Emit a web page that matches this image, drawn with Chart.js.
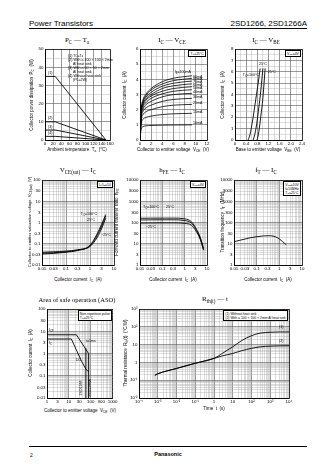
<!DOCTYPE html>
<html>
<head>
<meta charset="utf-8" />
<title>2SD1266 characteristics</title>
<script src="https://cdn.jsdelivr.net/npm/chart.js"></script>
<style>
    body { margin: 0; padding: 0; background: #fff; font-family: "Liberation Sans", Arial, sans-serif; color: #000; }
    #page { position: relative; width: 336px; height: 474px; overflow: hidden; }
    canvas { position: absolute; }
    .t { position: absolute; white-space: nowrap; line-height: 1; }
    .t sub { font-size: 72%; vertical-align: baseline; position: relative; top: 0.3em; line-height: 0; }
    .hdr { font-size: 8px; }
    .ttl { font-family: "Liberation Serif", serif; font-size: 7px; }
    .ax { font-size: 4.5px; }
    .ann { font-size: 3.6px; }
    .box { font-size: 3.4px; line-height: 1.2; border: 0.6px solid #000; background: #fff; padding: 0.6px 1.2px; }
    .rule { position: absolute; background: #000; height: 1px; }
</style>
</head>
<body>
<div id="page"></div>
<script>
    // ---------- data ----------
    // PC - Ta
    var taPts = [0, 25, 150];
    var pcTcTa = [35, 35, 0];
    var pcSink100 = [10, 10, 0];
    var pcSink50 = [5.5, 5.5, 0];
    var pcNoSink = [2, 2, 0];
    var taLabels = [0, 20, 40, 60, 80, 100, 120, 140, 160];
    var pcLabels = [0, 10, 20, 30, 40, 50];

    // IC - VCE  (Tc = 25 C)
    var vcePts = [0, 0.2, 0.5, 1, 2, 4, 6, 9.3];
    var icIb100 = [0, 1.9, 2.6, 3.0, 3.4, 3.85, 4.08, 4.24];
    var icIb90 = [0, 1.85, 2.5, 2.9, 3.3, 3.7, 3.92, 4.07];
    var icIb80 = [0, 1.8, 2.45, 2.8, 3.15, 3.55, 3.75, 3.89];
    var icIb70 = [0, 1.75, 2.35, 2.7, 3.0, 3.4, 3.58, 3.71];
    var icIb60 = [0, 1.7, 2.25, 2.6, 2.9, 3.22, 3.4, 3.52];
    var icIb50 = [0, 1.6, 2.15, 2.45, 2.75, 3.05, 3.22, 3.32];
    var icIb40 = [0, 1.5, 2.0, 2.3, 2.55, 2.85, 3.0, 3.08];
    var icIb30 = [0, 1.4, 1.85, 2.1, 2.3, 2.55, 2.68, 2.75];
    var icIb20 = [0, 1.25, 1.65, 1.85, 2.0, 2.2, 2.3, 2.35];
    var icIb15 = [0, 1.0, 1.35, 1.48, 1.58, 1.68, 1.73, 1.76];
    var icIb10 = [0, 0.7, 0.88, 0.93, 0.96, 0.98, 0.99, 1.0];
    var ibNames = ['I<sub>B</sub>=100mA', '90mA', '80mA', '70mA', '60mA', '50mA', '40mA', '30mA', '20mA', '15mA', '10mA'];
    var vceLabels = [0, 2, 4, 6, 8, 10, 12];
    var icLabels = [0, 1, 2, 3, 4, 5, 6];

    // IC - VBE  (VCE = 4 V)
    var icVbePts = [0, 0.5, 1, 2, 3, 4, 5, 6.3];
    var vbe100 = [0.47, 0.54, 0.58, 0.65, 0.71, 0.77, 0.83, 0.90];
    var vbe25 = [0.65, 0.71, 0.75, 0.81, 0.86, 0.91, 0.95, 1.0];
    var vbeM25 = [0.79, 0.84, 0.87, 0.92, 0.97, 1.01, 1.04, 1.08];
    var vbeLabels = [0, 0.4, 0.8, 1.2, 1.6, 2.0, 2.4];
    var vbeText = ['0', '0.4', '0.8', '1.2', '1.6', '2.0', '2.4'];
    var icVbeLabels = [0, 1, 2, 3, 4, 5, 6, 7, 8];

    // VCE(sat) - IC  (IC/IB = 10)
    var satIc = [0.01, 0.03, 0.1, 0.3, 1, 2, 3, 4.5];
    var sat100 = [0.033, 0.035, 0.04, 0.048, 0.085, 0.3, 0.8, 2.4];
    var sat25 = [0.036, 0.038, 0.042, 0.05, 0.08, 0.25, 0.65, 2.0];
    var satM25 = [0.04, 0.042, 0.045, 0.052, 0.075, 0.2, 0.5, 1.6];
    var icLogLabels = [0.01, 0.03, 0.1, 0.3, 1, 3, 10];
    var satLabels = [0.01, 0.03, 0.1, 0.3, 1, 3, 10, 30, 100];

    // hFE - IC  (VCE = 4 V)
    var hfeIc = [0.01, 0.03, 0.1, 0.3, 1, 2, 3, 5, 7];
    var hfe100 = [160, 161, 162, 162, 150, 110, 60, 20, 6];
    var hfe25 = [133, 134, 135, 135, 125, 95, 55, 18, 5.5];
    var hfeM25 = [95, 96, 97, 97, 92, 75, 45, 16, 5];
    var hfeLabels = [1, 3, 10, 30, 100, 300, 1000, 3000, 10000];

    // fT - IC  (VCE = 10 V)
    var ftIc = [0.01, 0.02, 0.05, 0.1, 0.2, 0.4, 0.7, 1, 2];
    var ftVal = [12.5, 15, 19, 21.5, 23.5, 24, 21, 17, 9];

    // ASO
    var icpV = [1, 22], icpI = [7, 7];
    var icdV = [1, 13], icdI = [4.5, 4.5];
    var t1msV = [22, 45, 80], t1msI = [7, 2.4, 1.0];
    var dcV = [13, 38, 60, 80], dcI = [4.5, 0.45, 0.2, 0.15];
    var vceoV = [60, 60], vceoI = [0.01, 1.8];
    var vceoAV = [80, 80], vceoAI = [0.01, 1.0];
    var asoXLabels = [1, 3, 10, 30, 100, 300, 1000];

    // Rth(t) - t
    var tPts = [7e-4, 1e-3, 1e-2, 1e-1, 1, 3, 10, 30, 100, 300, 1e3, 3e3, 1e4];
    var rthNoSink = [0.19, 0.23, 0.46, 0.9, 1.7, 3.4, 7.6, 17, 32, 45, 50, 52, 52];
    var rthSink = [0.19, 0.23, 0.46, 0.9, 1.7, 2.4, 3.2, 4.6, 6.2, 7.6, 8.3, 8.6, 8.7];
    var rthXLabels = [1e-4, 1e-3, 1e-2, 1e-1, 1, 10, 1e2, 1e3, 1e4];
    var rthXText = ['10\u207B\u2074', '10\u207B\u00B3', '10\u207B\u00B2', '10\u207B\u00B9', '1', '10', '10\u00B2', '10\u00B3', '10\u2074'];
    var rthYLabels = [1e-2, 1e-1, 1, 10, 1e2, 1e3];
    var rthYText = ['10\u207B\u00B2', '10\u207B\u00B9', '1', '10', '10\u00B2', '10\u00B3'];

    // ---------- helpers ----------
    var page = document.getElementById('page');

    function note(html, x, y, cls, anchor, rot) {
        var d = document.createElement('div');
        d.className = 't ' + (cls || '');
        d.innerHTML = html;
        d.style.left = x + 'px';
        d.style.top = y + 'px';
        var tx = anchor === 'l' ? '0' : anchor === 'r' ? '-100%' : '-50%';
        d.style.transform = 'translate(' + tx + ',-50%)' + (rot ? ' rotate(-90deg)' : '');
        if (rot) d.style.transformOrigin = (anchor === 'l' ? '0' : anchor === 'r' ? '100%' : '50%') + ' 50%';
        page.appendChild(d);
        return d;
    }
    function boxAt(lines, right, top) {
        var d = document.createElement('div');
        d.className = 't box';
        d.innerHTML = lines.join('<br>');
        d.style.right = (336 - right) + 'px';
        d.style.top = top + 'px';
        page.appendChild(d);
    }
    function rule(x, y, w) {
        var d = document.createElement('div');
        d.className = 'rule';
        d.style.left = x + 'px'; d.style.top = y + 'px'; d.style.width = w + 'px';
        page.appendChild(d);
    }
    function logGrid(e0, e1) {
        var out = [];
        for (var e = e0; e < e1; e++)
            for (var m = 1; m < 10; m++) out.push(+(m * Math.pow(10, e)).toPrecision(6));
        out.push(+Math.pow(10, e1).toPrecision(6));
        return out;
    }
    function linGrid(a, b, step) {
        var out = [];
        for (var v = a; v <= b + 1e-9; v += step) out.push(+v.toFixed(6));
        return out;
    }
    function same(a, b) { return Math.abs(a - b) <= Math.abs(b) * 1e-6 + 1e-12; }

    function axis(type, min, max, gridVals, labelVals, labelText) {
        function idx(v) { for (var i = 0; i < labelVals.length; i++) if (same(v, labelVals[i])) return i; return -1; }
        function major(v) {
            if (type === 'logarithmic') { var l = Math.log10(v); return Math.abs(l - Math.round(l)) < 1e-6; }
            return idx(v) >= 0;
        }
        return {
            type: type, min: min, max: max,
            afterBuildTicks: function (s) { s.ticks = gridVals.map(function (v) { return { value: v }; }); },
            ticks: {
                autoSkip: false, maxRotation: 0, minRotation: 0, padding: 1.5, color: '#000',
                font: { family: 'Liberation Sans', size: 4.4 },
                callback: function (v) { var i = idx(v); return i < 0 ? '' : (labelText ? labelText[i] : String(labelVals[i])); }
            },
            grid: {
                drawTicks: false,
                color: function (c) {
                    var v = c.tick ? c.tick.value : min;
                    if (same(v, min) || same(v, max)) return '#000';
                    return major(v) ? '#555' : '#a8a8a8';
                },
                lineWidth: function (c) {
                    var v = c.tick ? c.tick.value : min;
                    if (same(v, min) || same(v, max)) return 0.8;
                    return major(v) ? 0.6 : 0.4;
                }
            },
            border: { color: '#000', width: 0.8 }
        };
    }

    function build(r, xa, ya, sets) {
        var padL = 16, padT = 4, padR = 6, padB = 8;
        var cv = document.createElement('canvas');
        var w = r.w + padL + padR, h = r.h + padT + padB;
        cv.width = w; cv.height = h;
        cv.style.left = (r.l - padL) + 'px';
        cv.style.top = (r.t - padT) + 'px';
        cv.style.width = w + 'px';
        cv.style.height = h + 'px';
        page.appendChild(cv);
        xa.afterFit = function (s) { s.height = padB; };
        ya.afterFit = function (s) { s.width = padL; };
        var chart = new Chart(cv, {
            type: 'scatter',
            data: {
                datasets: sets.map(function (d) {
                    return {
                        data: d.x.map(function (v, i) { return { x: v, y: d.y[i] }; }),
                        showLine: true, borderColor: '#000', borderWidth: d.w || 0.9,
                        pointRadius: 0, fill: false,
                        cubicInterpolationMode: d.smooth ? 'monotone' : 'default', tension: 0
                    };
                })
            },
            options: {
                responsive: false, animation: false, devicePixelRatio: 1,
                layout: { padding: { top: padT, right: padR, left: 0, bottom: 0 } },
                plugins: { legend: { display: false }, tooltip: { enabled: false } },
                scales: { x: xa, y: ya }
            }
        });
        return { chart: chart, ox: r.l - padL, oy: r.t - padT };
    }
    function px(c, xv, yv) {
        return [c.ox + c.chart.scales.x.getPixelForValue(xv), c.oy + c.chart.scales.y.getPixelForValue(yv)];
    }

    // ---------- page header / footer ----------
    note('Power Transistors', 29, 24, 'hdr', 'l');
    note('2SD1266, 2SD1266A', 307, 24, 'hdr', 'r');
    rule(29, 28, 278);
    rule(29, 446, 278);
    note('2', 30, 455, 'ax', 'l').style.fontSize = '5px';
    note('<b>Panasonic</b>', 168, 455, 'ax', 'c').style.fontSize = '5.5px';

    // ---------- PC - Ta ----------
    var r1 = { l: 45, t: 49, w: 65, h: 91 };
    build(r1,
        axis('linear', 0, 160, linGrid(0, 160, 20), taLabels),
        axis('linear', 0, 50, linGrid(0, 50, 5), pcLabels),
        [{ x: taPts, y: pcTcTa }, { x: taPts, y: pcSink100 }, { x: taPts, y: pcSink50 }, { x: taPts, y: pcNoSink }]);
    note('P<sub>C</sub> \u2014 T<sub>a</sub>', 77, 40, 'ttl', 'c');
    note('Ambient temperature&nbsp;&nbsp;T<sub>a</sub>&nbsp;&nbsp;(\u00B0C)', 77, 150, 'ax', 'c');
    note('Collector power dissipation&nbsp;&nbsp;P<sub>C</sub>&nbsp;&nbsp;(W)', 32, 95, 'ax', 'c', true);
    note('(1) T<sub>C</sub>=T<sub>a</sub>', 68, 56.5, 'ann', 'l');
    note('(2) With a 100 \u00D7 100 \u00D7 2mm', 68, 60.5, 'ann', 'l');
    note('Al heat sink', 73, 64.5, 'ann', 'l');
    note('(3) With a 50 \u00D7 50 \u00D7 2mm', 68, 68.5, 'ann', 'l');
    note('Al heat sink', 73, 72.5, 'ann', 'l');
    note('(4) Without heat sink', 68, 76.5, 'ann', 'l');
    note('(P<sub>C</sub>=2W)', 73, 80.5, 'ann', 'l');
    note('(1)', 48, 73.5, 'ann', 'l');
    note('(2)', 48, 119, 'ann', 'l');
    note('(3)', 48, 127.5, 'ann', 'l');
    note('(4)', 48, 134, 'ann', 'l');

    // ---------- IC - VCE ----------
    var r2 = { l: 140, t: 49, w: 67, h: 91 };
    var icCurves = [icIb100, icIb90, icIb80, icIb70, icIb60, icIb50, icIb40, icIb30, icIb20, icIb15, icIb10];
    var c2 = build(r2,
        axis('linear', 0, 12, linGrid(0, 12, 1), vceLabels),
        axis('linear', 0, 6, linGrid(0, 6, 0.5), icLabels),
        icCurves.map(function (c) { return { x: vcePts, y: c, smooth: true, w: 0.8 }; }));
    note('I<sub>C</sub> \u2014 V<sub>CE</sub>', 172, 40, 'ttl', 'c');
    note('Collector to emitter voltage&nbsp;&nbsp;V<sub>CE</sub>&nbsp;&nbsp;(V)', 173, 150, 'ax', 'c');
    note('Collector current&nbsp;&nbsp;I<sub>C</sub>&nbsp;&nbsp;(A)', 125, 95, 'ax', 'c', true);
    boxAt(['T<sub>C</sub>=25\u00B0C'], 206, 50);
    icCurves.forEach(function (c, i) {
        var p = px(c2, vcePts[vcePts.length - 1], c[c.length - 1]);
        if (i === 0) note(ibNames[i], p[0] - 1, p[1] - 2.8, 'ann', 'r');
        else note(ibNames[i], p[0] + 1, p[1] - 0.8, 'ann', 'l');
    });

    // ---------- IC - VBE ----------
    var r3 = { l: 235, t: 49, w: 67, h: 91 };
    var c3 = build(r3,
        axis('linear', 0, 2.4, linGrid(0, 2.4, 0.2), vbeLabels, vbeText),
        axis('linear', 0, 8, linGrid(0, 8, 0.5), icVbeLabels),
        [{ x: vbe100, y: icVbePts, smooth: true }, { x: vbe25, y: icVbePts, smooth: true }, { x: vbeM25, y: icVbePts, smooth: true }]);
    note('I<sub>C</sub> \u2014 V<sub>BE</sub>', 266, 40, 'ttl', 'c');
    note('Base to emitter voltage&nbsp;&nbsp;V<sub>BE</sub>&nbsp;&nbsp;(V)', 268, 150, 'ax', 'c');
    note('Collector current&nbsp;&nbsp;I<sub>C</sub>&nbsp;&nbsp;(A)', 223, 95, 'ax', 'c', true);
    boxAt(['V<sub>CE</sub>=4V'], 301, 50);
    var p3 = px(c3, 0.86, 5.6);
    note('T<sub>C</sub>=100\u00B0C', p3[0], p3[1], 'ann', 'r');
    p3 = px(c3, 1.0, 6.6);
    note('25\u00B0C', p3[0], p3[1], 'ann', 'c');
    p3 = px(c3, 1.1, 5.9);
    note('\u221225\u00B0C', p3[0], p3[1], 'ann', 'l');

    // ---------- VCE(sat) - IC ----------
    var r4 = { l: 42, t: 180, w: 72, h: 85 };
    build(r4,
        axis('logarithmic', 0.01, 10, logGrid(-2, 1), icLogLabels),
        axis('logarithmic', 0.01, 100, logGrid(-2, 2), satLabels),
        [{ x: satIc, y: sat100, smooth: true }, { x: satIc, y: sat25, smooth: true }, { x: satIc, y: satM25, smooth: true }]);
    note('V<sub>CE(sat)</sub> \u2014 I<sub>C</sub>', 78, 170, 'ttl', 'c');
    note('Collector current&nbsp;&nbsp;I<sub>C</sub>&nbsp;&nbsp;(A)', 78, 280, 'ax', 'c');
    note('Collector to emitter saturation voltage&nbsp;&nbsp;V<sub>CE(sat)</sub>&nbsp;&nbsp;(V)', 30, 222, 'ax', 'c', true).style.fontSize = '4.1px';
    boxAt(['I<sub>C</sub>/I<sub>B</sub>=10'], 113, 181);
    note('T<sub>C</sub>=100\u00B0C', 97, 215, 'ann', 'r');
    note('25\u00B0C', 95, 220.5, 'ann', 'r');
    note('\u221225\u00B0C', 101, 236, 'ann', 'l');

    // ---------- hFE - IC ----------
    var r5 = { l: 140, t: 180, w: 67, h: 85 };
    build(r5,
        axis('logarithmic', 0.01, 10, logGrid(-2, 1), icLogLabels),
        axis('logarithmic', 1, 10000, logGrid(0, 4), hfeLabels),
        [{ x: hfeIc, y: hfe100, smooth: true }, { x: hfeIc, y: hfe25, smooth: true }, { x: hfeIc, y: hfeM25, smooth: true }]);
    note('h<sub>FE</sub> \u2014 I<sub>C</sub>', 172, 170, 'ttl', 'c');
    note('Collector current&nbsp;&nbsp;I<sub>C</sub>&nbsp;&nbsp;(A)', 173, 280, 'ax', 'c');
    note('Forward current transfer ratio&nbsp;&nbsp;h<sub>FE</sub>', 117, 222, 'ax', 'c', true);
    boxAt(['V<sub>CE</sub>=4V'], 206, 181);
    note('T<sub>C</sub>=100\u00B0C', 143, 208, 'ann', 'l');
    note('25\u00B0C', 166, 208, 'ann', 'l');
    note('\u221225\u00B0C', 146, 228, 'ann', 'l');

    // ---------- fT - IC ----------
    var r6 = { l: 234, t: 180, w: 68, h: 85 };
    build(r6,
        axis('logarithmic', 0.01, 10, logGrid(-2, 1), icLogLabels),
        axis('logarithmic', 1, 10000, logGrid(0, 4), hfeLabels),
        [{ x: ftIc, y: ftVal, smooth: true }]);
    note('f<sub>T</sub> \u2014 I<sub>C</sub>', 266, 170, 'ttl', 'c');
    note('Collector current&nbsp;&nbsp;I<sub>C</sub>&nbsp;&nbsp;(A)', 268, 280, 'ax', 'c');
    note('Transition frequency&nbsp;&nbsp;f<sub>T</sub>&nbsp;&nbsp;(MHz)', 223, 222, 'ax', 'c', true);
    boxAt(['V<sub>CE</sub>=10V', 'f=10MHz', 'T<sub>C</sub>=25\u00B0C'], 301, 181);

    // ---------- ASO ----------
    var r7 = { l: 47, t: 309, w: 66, h: 89 };
    build(r7,
        axis('logarithmic', 1, 1000, logGrid(0, 3), asoXLabels),
        axis('logarithmic', 0.01, 100, logGrid(-2, 2), satLabels),
        [{ x: icpV, y: icpI }, { x: icdV, y: icdI }, { x: t1msV, y: t1msI }, { x: dcV, y: dcI },
         { x: vceoV, y: vceoI }, { x: vceoAV, y: vceoAI }]);
    note('Area of safe operation (ASO)', 77, 300, 'ttl', 'c').style.fontSize = '6.5px';
    note('Collector to emitter voltage&nbsp;&nbsp;V<sub>CE</sub>&nbsp;&nbsp;(V)', 80, 411, 'ax', 'c');
    note('Collector current&nbsp;&nbsp;I<sub>C</sub>&nbsp;&nbsp;(A)', 31, 353, 'ax', 'c', true);
    boxAt(['Non repetitive pulse', 'T<sub>C</sub>=25\u00B0C'], 112, 310);
    note('I<sub>CP</sub>', 49, 331, 'ann', 'l');
    note('I<sub>C</sub>', 49, 344, 'ann', 'l');
    note('t=1ms', 86, 342, 'ann', 'l');
    note('DC', 76, 361, 'ann', 'l');
    note('2SD1266', 82, 388, 'ann', 'c', true);
    note('2SD1266A', 91, 388, 'ann', 'c', true);

    // ---------- Rth(t) - t ----------
    var r8 = { l: 139, t: 309, w: 150, h: 89 };
    build(r8,
        axis('logarithmic', 1e-4, 1e4, logGrid(-4, 4), rthXLabels, rthXText),
        axis('logarithmic', 1e-2, 1e3, logGrid(-2, 3), rthYLabels, rthYText),
        [{ x: tPts, y: rthNoSink, smooth: true }, { x: tPts, y: rthSink, smooth: true }]);
    note('R<sub>th(t)</sub> \u2014 t', 215, 299, 'ttl', 'c');
    note('Time&nbsp;&nbsp;t&nbsp;&nbsp;(s)', 214, 409, 'ax', 'c');
    note('Thermal resistance&nbsp;&nbsp;R<sub>th</sub>(t)&nbsp;&nbsp;(\u00B0C/W)', 126, 353, 'ax', 'c', true);
    boxAt(['(1) Without heat sink', '(2) With a 100 \u00D7 100 \u00D7 2mm Al heat sink'], 288, 310);
    note('(1)', 279, 328, 'ann', 'l');
    note('(2)', 279, 342, 'ann', 'l');
</script>
</body>
</html>
